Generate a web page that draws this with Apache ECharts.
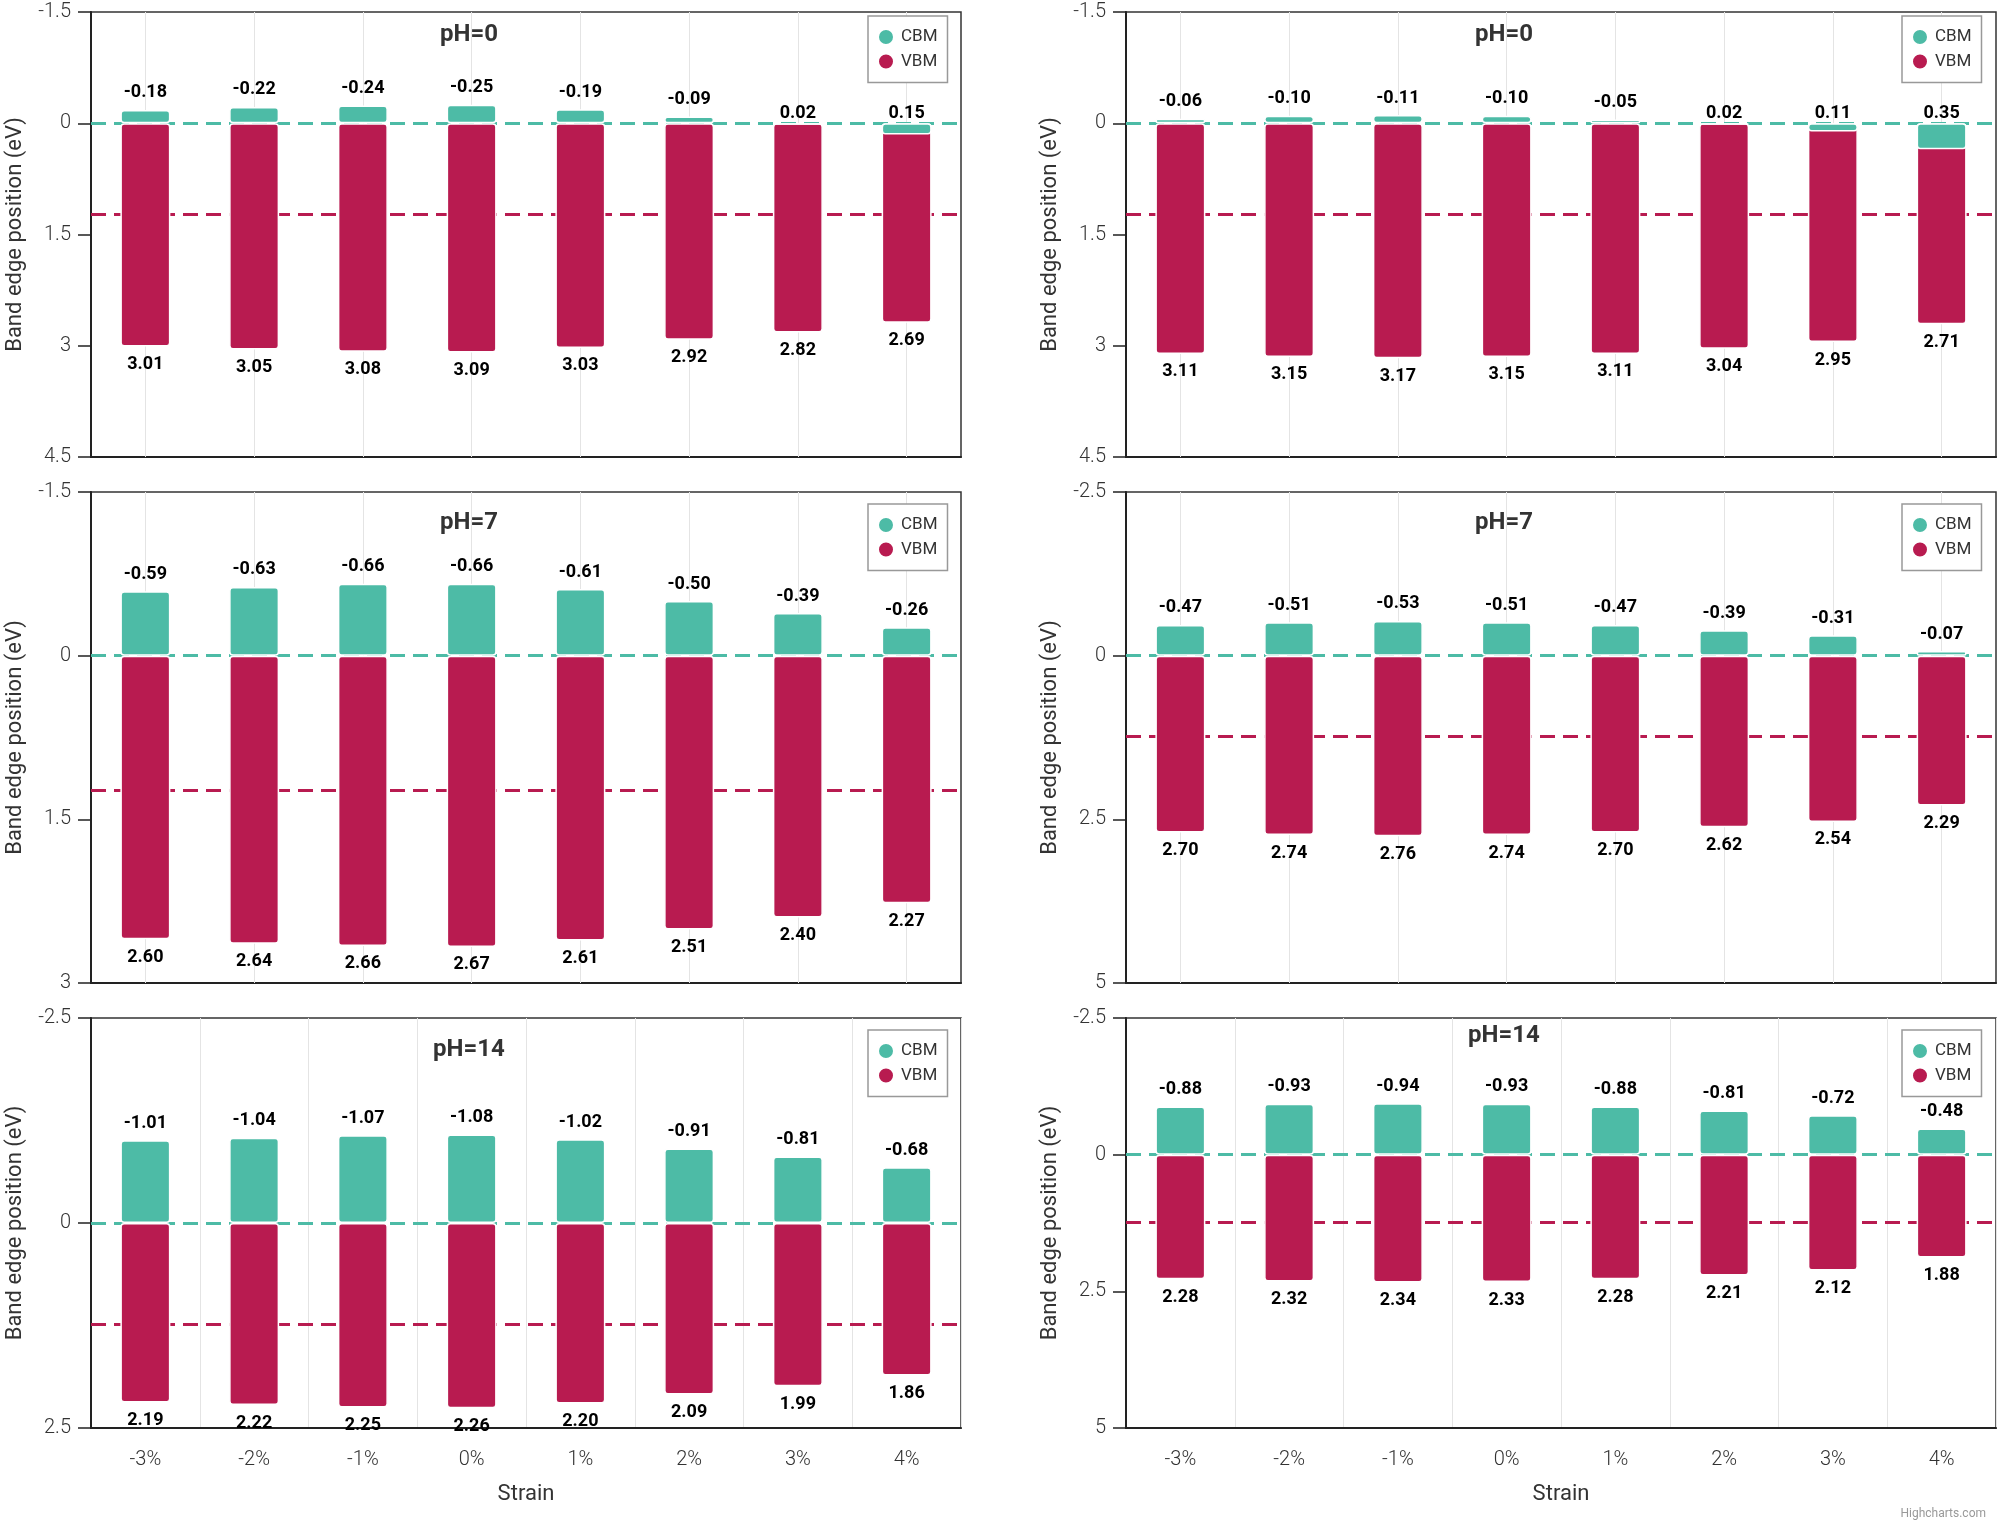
<!DOCTYPE html>
<html>
<head>
<meta charset="utf-8">
<script src="https://cdn.jsdelivr.net/npm/echarts@6/dist/echarts.min.js"></script>
<style>
html,body{margin:0;padding:0;background:#fff;}
#chart{width:2000px;height:1526px;}
</style>
</head>
<body>
<div id="chart"></div>
<script>
// ---------------- data ----------------
const categories = ['-3%', '-2%', '-1%', '0%', '1%', '2%', '3%', '4%'];
const phLabels = ['pH=0', 'pH=7', 'pH=14'];
const seriesNames = ['CBM', 'VBM'];
const waterRedox = [0, 1.23]; // H+/H2 and O2/H2O levels (eV)

// left column
const cbmLeftPH0 = [-0.18, -0.22, -0.24, -0.25, -0.19, -0.09, 0.02, 0.15];
const vbmLeftPH0 = [3.01, 3.05, 3.08, 3.09, 3.03, 2.92, 2.82, 2.69];
const cbmLeftPH7 = [-0.59, -0.63, -0.66, -0.66, -0.61, -0.50, -0.39, -0.26];
const vbmLeftPH7 = [2.60, 2.64, 2.66, 2.67, 2.61, 2.51, 2.40, 2.27];
const cbmLeftPH14 = [-1.01, -1.04, -1.07, -1.08, -1.02, -0.91, -0.81, -0.68];
const vbmLeftPH14 = [2.19, 2.22, 2.25, 2.26, 2.20, 2.09, 1.99, 1.86];

// right column
const cbmRightPH0 = [-0.06, -0.10, -0.11, -0.10, -0.05, 0.02, 0.11, 0.35];
const vbmRightPH0 = [3.11, 3.15, 3.17, 3.15, 3.11, 3.04, 2.95, 2.71];
const cbmRightPH7 = [-0.47, -0.51, -0.53, -0.51, -0.47, -0.39, -0.31, -0.07];
const vbmRightPH7 = [2.70, 2.74, 2.76, 2.74, 2.70, 2.62, 2.54, 2.29];
const cbmRightPH14 = [-0.88, -0.93, -0.94, -0.93, -0.88, -0.81, -0.72, -0.48];
const vbmRightPH14 = [2.28, 2.32, 2.34, 2.33, 2.28, 2.21, 2.12, 1.88];

// y-axis ticks (min, max, step) per panel
const yMinLeft = [-1.5, -1.5, -2.5];
const yMaxLeft = [4.5, 3, 2.5];
const yStepLeft = [1.5, 1.5, 2.5];
const yMinRight = [-1.5, -2.5, -2.5];
const yMaxRight = [4.5, 5, 5];
const yStepRight = [1.5, 2.5, 2.5];

// ---------------- styles / layout ----------------
const CBM_COLOR = '#4dbba6';
const VBM_COLOR = '#b81b50';
const FONT = 'Roboto, "Liberation Sans", Arial, sans-serif';

const colLefts = [91, 1126];
const gridWidth = 870;
const rowTops = [12, 492, 1018];
const rowHeights = [445, 491, 410];
const titleX = [469, 1504];
const titleY = [[35, 35], [523, 523], [1050, 1036]];
const legendX = [868, 1902];
const legendY = [16, 504, 1030];

const panels = [
  {row: 0, col: 0, cbm: cbmLeftPH0, vbm: vbmLeftPH0, min: yMinLeft[0], max: yMaxLeft[0], step: yStepLeft[0]},
  {row: 0, col: 1, cbm: cbmRightPH0, vbm: vbmRightPH0, min: yMinRight[0], max: yMaxRight[0], step: yStepRight[0]},
  {row: 1, col: 0, cbm: cbmLeftPH7, vbm: vbmLeftPH7, min: yMinLeft[1], max: yMaxLeft[1], step: yStepLeft[1]},
  {row: 1, col: 1, cbm: cbmRightPH7, vbm: vbmRightPH7, min: yMinRight[1], max: yMaxRight[1], step: yStepRight[1]},
  {row: 2, col: 0, cbm: cbmLeftPH14, vbm: vbmLeftPH14, min: yMinLeft[2], max: yMaxLeft[2], step: yStepLeft[2]},
  {row: 2, col: 1, cbm: cbmRightPH14, vbm: vbmRightPH14, min: yMinRight[2], max: yMaxRight[2], step: yStepRight[2]}
];

const fmt2 = p => Number(p.value).toFixed(2);
const labelFont = {fontSize: 18, fontWeight: 'bold', color: '#000', fontFamily: FONT};

const option = {
  animation: false,
  textStyle: {fontFamily: FONT},
  title: [], legend: [], grid: [], xAxis: [], yAxis: [], series: [],
  graphic: [{
    type: 'text', right: 14, top: 1508,
    style: {text: 'Highcharts.com', fontSize: 12, fill: '#999', fontFamily: FONT}
  }]
};

panels.forEach((p, i) => {
  const bottomRow = p.row === 2;
  option.grid.push({
    left: colLefts[p.col], top: rowTops[p.row], width: gridWidth, height: rowHeights[p.row],
    show: true, borderColor: '#333', borderWidth: 1.5, backgroundColor: 'transparent',
    containLabel: false, outerBoundsMode: 'none'
  });
  option.title.push({
    text: phLabels[p.row], left: titleX[p.col], top: titleY[p.row][p.col],
    textAlign: 'center', textVerticalAlign: 'middle', padding: 0,
    textStyle: {fontSize: 24, fontWeight: 'bold', color: '#333', fontFamily: FONT}
  });
  option.legend.push({
    data: seriesNames, orient: 'vertical', left: legendX[p.col], top: legendY[p.row],
    padding: [12, 10, 12, 9], itemWidth: 20, itemHeight: 16, itemGap: 6.5, icon: 'circle',
    borderColor: '#999', borderWidth: 1.5, backgroundColor: '#fff', selectedMode: false,
    textStyle: {fontSize: 17, color: '#333', fontFamily: FONT}
  });
  option.xAxis.push({
    type: 'category', gridIndex: i, data: categories, boundaryGap: true,
    axisLine: {show: true, onZero: false, lineStyle: {color: '#222', width: 2}},
    axisTick: {show: false},
    axisLabel: {show: bottomRow, fontSize: 20, fontWeight: 300, color: '#333', margin: 22, fontFamily: FONT},
    splitLine: {show: bottomRow, lineStyle: {color: '#e4e4e4', width: 1}},
    name: bottomRow ? 'Strain' : '', nameLocation: 'middle', nameGap: 55,
    nameTextStyle: {fontSize: 22, color: '#333', fontFamily: FONT}
  });
  option.yAxis.push({
    type: 'value', gridIndex: i, inverse: true, min: p.min, max: p.max, interval: p.step,
    axisLine: {show: true, onZero: false, lineStyle: {color: '#222', width: 2}},
    axisTick: {show: true, length: 13, lineStyle: {color: '#222', width: 1.5}},
    axisLabel: {fontSize: 20, fontWeight: 300, color: '#333', margin: 20, fontFamily: FONT},
    splitLine: {show: false},
    name: 'Band edge position (eV)', nameLocation: 'middle', nameGap: 65,
    nameTextStyle: {fontSize: 22, color: '#333', fontFamily: FONT}
  });

  const vbmSeries = {
    name: 'VBM', type: 'bar', xAxisIndex: i, yAxisIndex: i, data: p.vbm,
    barWidth: 50, barGap: '-100%',
    itemStyle: {color: VBM_COLOR, borderColor: '#fff', borderWidth: 1.5, borderRadius: 3},
    label: Object.assign({show: true, position: 'bottom', distance: 9, formatter: fmt2}, labelFont),
    emphasis: {disabled: true}
  };
  if (!bottomRow) {
    vbmSeries.markLine = {
      silent: true, z: 1, symbol: ['none', 'none'], animation: false,
      label: {show: false},
      lineStyle: {type: 'solid', color: '#e4e4e4', width: 1},
      data: categories.map(c => ({xAxis: c}))
    };
  }
  // CBM bars that sit below the H+/H2 line keep their label close to that line
  const cbmData = p.cbm.map(v => (v > 0 ? {value: v, label: {distance: 1}} : v));
  const cbmSeries = {
    name: 'CBM', type: 'bar', xAxisIndex: i, yAxisIndex: i, data: cbmData,
    barWidth: 50, barGap: '-100%',
    itemStyle: {color: CBM_COLOR, borderColor: '#fff', borderWidth: 1.5, borderRadius: 3},
    label: Object.assign({show: true, position: 'top', distance: 8, formatter: fmt2}, labelFont),
    emphasis: {disabled: true},
    markLine: {
      silent: true, z: 1, symbol: ['none', 'none'], animation: false,
      label: {show: false},
      data: [
        {yAxis: waterRedox[0], lineStyle: {type: [15, 8], color: CBM_COLOR, width: 3}},
        {yAxis: waterRedox[1], lineStyle: {type: [15, 8], color: VBM_COLOR, width: 3}}
      ]
    }
  };
  option.series.push(vbmSeries, cbmSeries);
});

const chart = echarts.init(document.getElementById('chart'), null, {renderer: 'canvas'});
chart.setOption(option);
</script>
</body>
</html>
